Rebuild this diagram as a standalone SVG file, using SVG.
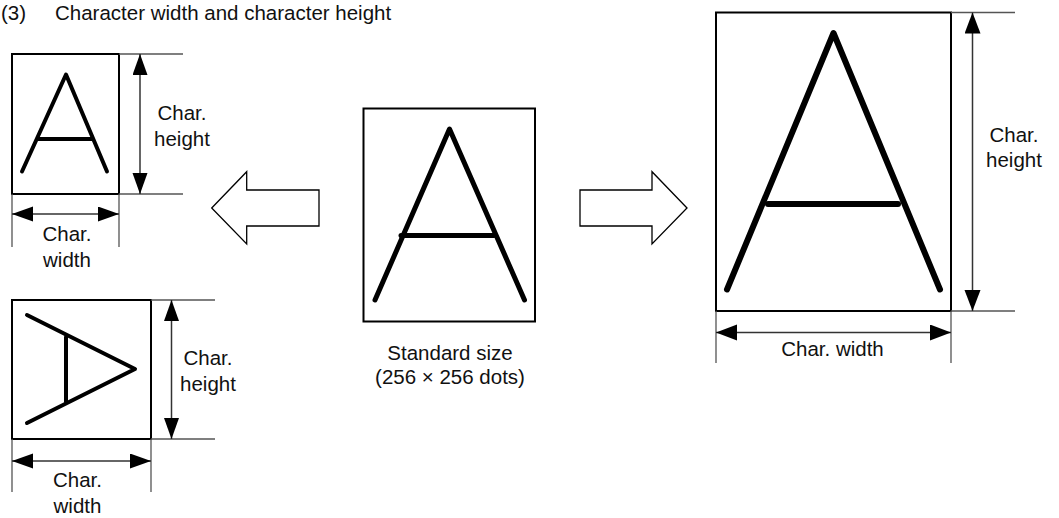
<svg xmlns="http://www.w3.org/2000/svg" width="1059" height="518" viewBox="0 0 1059 518">
<defs>
<style>
text{font-family:"Liberation Sans",Arial,sans-serif;font-size:20.5px;fill:#111;}
.c{text-anchor:middle;}
.box{fill:#fff;stroke:#000;stroke-width:2;}
.ext{stroke:#555;stroke-width:1.3;fill:none;}
.dim{stroke:#333;stroke-width:1.5;fill:none;marker-start:url(#ah);marker-end:url(#ah);}
.dimL{stroke:#333;stroke-width:1.5;fill:none;marker-start:url(#ahL);marker-end:url(#ahL);}
.glyph{stroke:#000;fill:none;stroke-linecap:round;stroke-linejoin:round;}
.big{fill:#fff;stroke:#000;stroke-width:1.3;}
</style>
<marker id="ah" markerUnits="userSpaceOnUse" markerWidth="22" markerHeight="16" refX="21" refY="7.5" orient="auto-start-reverse">
<path d="M0,0 L21,7.5 L0,15 Z" fill="#000"/>
</marker>
<marker id="ahL" markerUnits="userSpaceOnUse" markerWidth="22" markerHeight="18" refX="21" refY="8" orient="auto-start-reverse">
<path d="M0,0 L21,8 L0,16 Z" fill="#000"/>
</marker>
</defs>

<g id="title">
<text x="1" y="19.5">(3)</text>
<text x="55" y="19.5">Character width and character height</text>
</g>

<g id="small-a">
<rect class="box" x="12" y="54" width="107" height="140"/>
<g class="glyph" stroke-width="4">
<path d="M22,171.5 L66,74.5 L107,171.5"/>
<path d="M38,139 L92,139"/>
</g>
<text class="c" x="182" y="120">Char.</text>
<text class="c" x="182" y="146">height</text>
<text class="c" x="67" y="241">Char.</text>
<text class="c" x="67" y="267">width</text>
</g>

<g id="rotated-a">
<rect class="box" x="12" y="300" width="139" height="139"/>
<g class="glyph" stroke-width="4">
<path d="M27,315 L135,369 L27,423"/>
<path d="M66,337 L66,401.5"/>
</g>
<text class="c" x="208" y="365">Char.</text>
<text class="c" x="208" y="391">height</text>
<text class="c" x="77.5" y="486.5">Char.</text>
<text class="c" x="77.5" y="512.5">width</text>
</g>

<g id="standard">
<rect class="box" x="363.5" y="108.5" width="171.5" height="213"/>
<g class="glyph" stroke-width="5">
<path d="M375,300 L449.5,129 L524.5,300"/>
<path d="M401,235.5 L494,235.5"/>
</g>
<text class="c" x="450" y="360">Standard size</text>
<text class="c" x="450" y="383.5">(256 × 256 dots)</text>
</g>

<g id="large-a">
<rect class="box" x="716" y="12.5" width="235" height="298.5"/>
<g class="glyph" stroke-width="6">
<path d="M727,289.5 L833.5,33 L940,289.5"/>
<path d="M768,204 L898,204"/>
</g>
<text class="c" x="1014" y="142">Char.</text>
<text class="c" x="1014" y="167">height</text>
<text class="c" x="832.5" y="356">Char. width</text>
</g>

<g id="connectors">
<polygon class="big" points="211.7,208 246.7,171.7 246.7,190 319,190 319,226 246.7,226 246.7,244"/>
<polygon class="big" points="687,208 652,171.7 652,190 580,190 580,226 652,226 652,244"/>

<path class="ext" d="M119,54 H183 M119,194 H183 M12,194 V247 M119,194 V247"/>
<path class="dim" d="M140,54 V194"/>
<path class="dim" d="M12,214 H119"/>

<path class="ext" d="M151,300 H215 M151,439 H215 M12,439 V492 M151,439 V492"/>
<path class="dim" d="M171.5,300 V439"/>
<path class="dim" d="M12,461 H151"/>

<path class="ext" d="M951,12.5 H1015 M951,311 H1015 M716,311 V363 M951,311 V363"/>
<path class="dimL" d="M972.5,12.5 V311"/>
<path class="dimL" d="M716,332.5 H951"/>
</g>
</svg>
